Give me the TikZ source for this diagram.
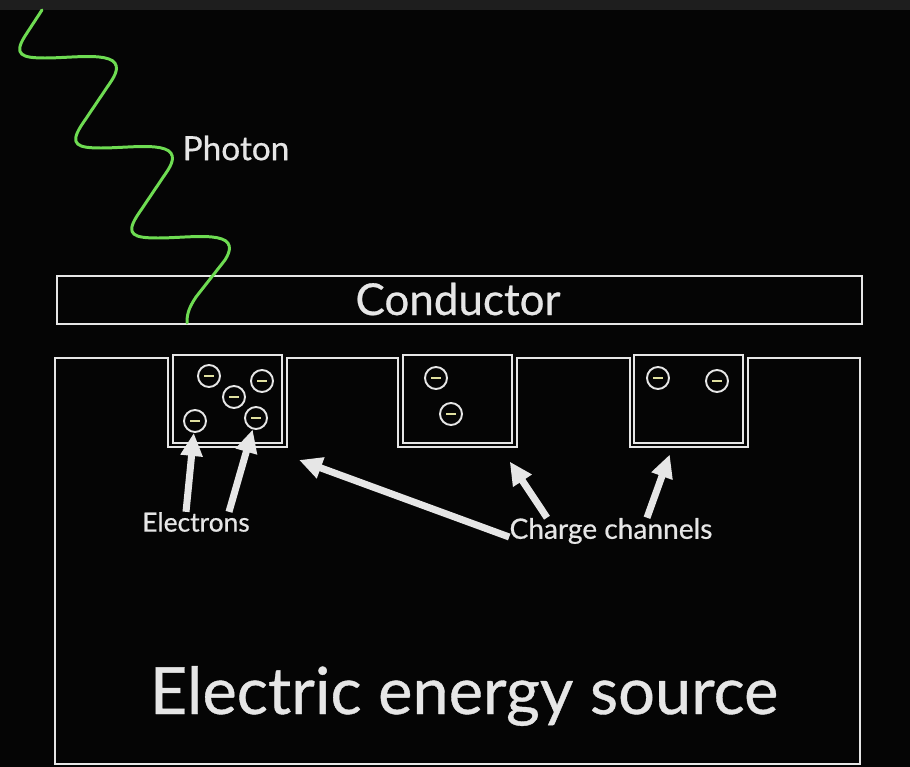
\documentclass[tikz,border=0pt]{standalone}
\usepackage{fontspec}
\setmainfont{Lato}[FakeBold=0.6]
\usetikzlibrary{arrows.meta,positioning,calc}
\definecolor{bgcol}{HTML}{050505}
\definecolor{stripcol}{HTML}{1E1E1E}
\definecolor{linecol}{HTML}{E6E6E6}
\definecolor{photoncol}{HTML}{6EDC52}
\definecolor{minuscol}{HTML}{E0E0A0}
\newcommand{\eminus}{\textcolor{minuscol}{\rule{0.2cm}{0.05cm}}}

\begin{document}
\begin{tikzpicture}[
  x=0.02cm, y=-0.02cm,
  label/.style={text=linecol, inner sep=0pt},
  channel/.style={rectangle, draw=linecol, line width=1.3pt, minimum width=2.18cm, minimum height=1.76cm, inner sep=0pt},
  electron/.style={circle, draw=linecol, line width=1.1pt, minimum size=0.44cm, inner sep=0pt},
  arrow/.style={-{Triangle[length=0.46cm,width=0.42cm]}, line width=0.14cm, draw=linecol}
]
  % background
  \fill[bgcol] (0,0) rectangle (910,767);
  \fill[stripcol] (0,0) rectangle (910,10);
  \useasboundingbox (0,0) rectangle (910,767);

  % conductor
  \node[rectangle, draw=linecol, line width=1.6pt, minimum width=16.1cm, minimum height=0.96cm] (cond) at (459.5,300) {};
  \node[label, font=\fontsize{25}{30}\selectfont] (condlbl) at (458,299) {Conductor};

  % electric energy source with notches
  \draw[linecol, line width=1.6pt] (55,764) -- (55,358) -- (168,358) -- (168,447) -- (287,447) -- (287,358)
    -- (398,358) -- (398,447) -- (517,447) -- (517,358)
    -- (630,358) -- (630,447) -- (748,447) -- (748,358) -- (860,358) -- (860,764) -- cycle;
  \node[label, font=\fontsize{37}{44}\selectfont] (srclbl) at (464,696) {Electric energy source};

  % charge channels
  \node[channel] (ch1) at (227.5,399) {};
  \node[channel] (ch2) at (457.5,399) {};
  \node[channel] (ch3) at (688.5,399) {};

  % electrons
  \node[electron] (e1) at (209,376) {\eminus};
  \node[electron] (e2) at (262,381) {\eminus};
  \node[electron] (e3) at (234,397) {\eminus};
  \node[electron] (e4) at (195,421) {\eminus};
  \node[electron] (e5) at (256,418) {\eminus};
  \node[electron] (e6) at (436,378) {\eminus};
  \node[electron] (e7) at (451,414) {\eminus};
  \node[electron] (e8) at (658,378) {\eminus};
  \node[electron] (e9) at (717,381) {\eminus};

  % photon
  \draw[photoncol, line width=1.7pt, line cap=round]
    (42,10) -- (25,36) .. controls (13,55) and (22,58) .. (45,58)
    .. controls (80,58) and (132,48) .. (112,80)
    -- (81,126) .. controls (69,145) and (78,148) .. (101,148)
    .. controls (136,148) and (188,138) .. (168,170)
    -- (137,216) .. controls (125,235) and (134,238) .. (158,238)
    .. controls (193,238) and (245,228) .. (225,260)
    -- (196,297) .. controls (188,309) and (187,315) .. (187,323);
  \node[label, font=\fontsize{19}{23}\selectfont] (photonlbl) at (236,148) {Photon};

  % labels and arrows
  \node[label, font=\fontsize{15}{18}\selectfont] (elbl) at (196,522) {Electrons};
  \node[label, font=\fontsize{16}{19}\selectfont] (chlbl) at (611,531) {Charge channels};

  \draw[arrow] ([xshift=-0.2cm]elbl.north) -- (e4);
  \draw[arrow] ([xshift=0.66cm]elbl.north) -- (e5);
  \draw[arrow, shorten >=0.34cm] ([yshift=-0.12cm]chlbl.west) -- ([yshift=-0.2cm]ch1.south east);
  \draw[arrow, shorten >=0.42cm] ([xshift=-1.28cm]chlbl.north) -- ([xshift=-0.3cm]ch2.south east);
  \draw[arrow, shorten >=0.22cm] ([xshift=0.72cm]chlbl.north) -- ([xshift=-0.3cm]ch3.south);
\end{tikzpicture}
\end{document}
